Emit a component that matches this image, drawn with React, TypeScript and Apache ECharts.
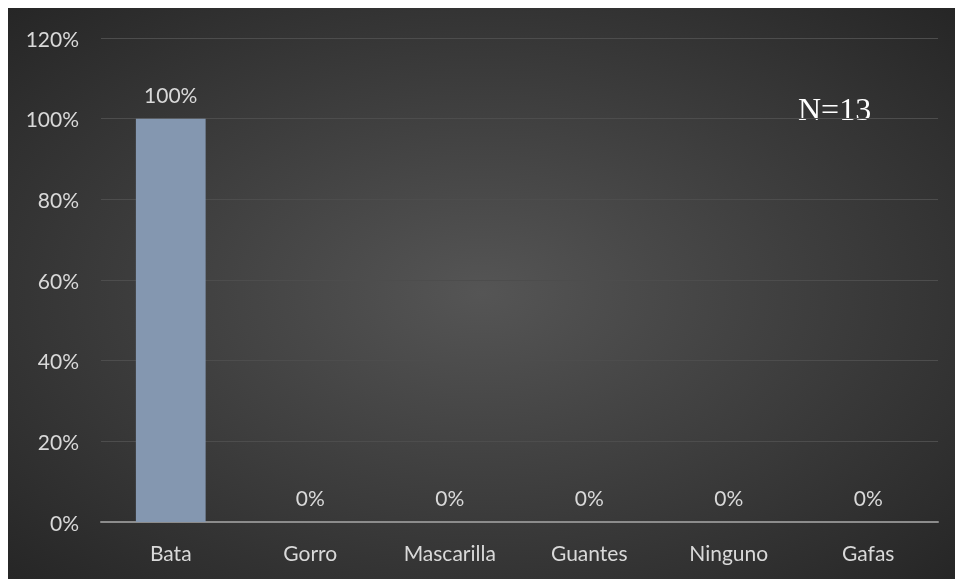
import React, { useEffect, useRef } from "react";
import * as echarts from "echarts";

const categories = ["Bata", "Gorro", "Mascarilla", "Guantes", "Ninguno", "Gafas"];
const values = [100, 0, 0, 0, 0, 0];
const yTicks = [0, 20, 40, 60, 80, 100, 120];
const noteText = "N=13";

export default function App() {
  const ref = useRef<HTMLDivElement>(null);
  useEffect(() => {
    if (!ref.current) return;
    const chart = echarts.init(ref.current, undefined, { renderer: "svg" });
    const font = "Lato, 'Open Sans', sans-serif";
    chart.setOption({
      animation: false,
      backgroundColor: new echarts.graphic.RadialGradient(0.5, 0.5, 0.75, [
        { offset: 0, color: "#555555" },
        { offset: 1, color: "#232323" },
      ]),
      grid: { left: 93, right: 17, top: 30, bottom: 57, containLabel: false },
      xAxis: {
        type: "category",
        data: categories,
        axisLine: { lineStyle: { color: "#8c8c8c", width: 2 } },
        axisTick: { show: false },
        axisLabel: { color: "#d9d9d9", fontSize: 21, fontFamily: font, margin: 20 },
      },
      yAxis: {
        type: "value",
        min: yTicks[0],
        max: yTicks[yTicks.length - 1],
        interval: 20,
        axisLine: { show: false },
        axisTick: { show: false },
        splitLine: { lineStyle: { color: "#4d4d4d", width: 1 } },
        axisLabel: {
          color: "#d9d9d9",
          fontSize: 21,
          fontFamily: font,
          margin: 22,
          formatter: (v: number) => `${v}%`,
        },
      },
      series: [
        {
          type: "bar",
          data: values,
          barWidth: "50%",
          itemStyle: { color: "#8497b0" },
          label: {
            show: true,
            position: "top",
            distance: 14,
            color: "#d9d9d9",
            fontSize: 21,
            fontFamily: font,
            formatter: (p: any) => `${p.value}%`,
          },
        },
      ],
      graphic: [
        {
          type: "text",
          left: 790,
          top: 85,
          style: {
            text: noteText,
            fill: "#ffffff",
            fontSize: 32,
            fontFamily: "'Liberation Serif', 'DejaVu Serif', serif",
          },
        },
      ],
    });
    return () => chart.dispose();
  }, []);
  return (
    <div
      ref={ref}
      style={{ position: "fixed", left: 8, top: 8, width: 947, height: 571 }}
    />
  );
}
